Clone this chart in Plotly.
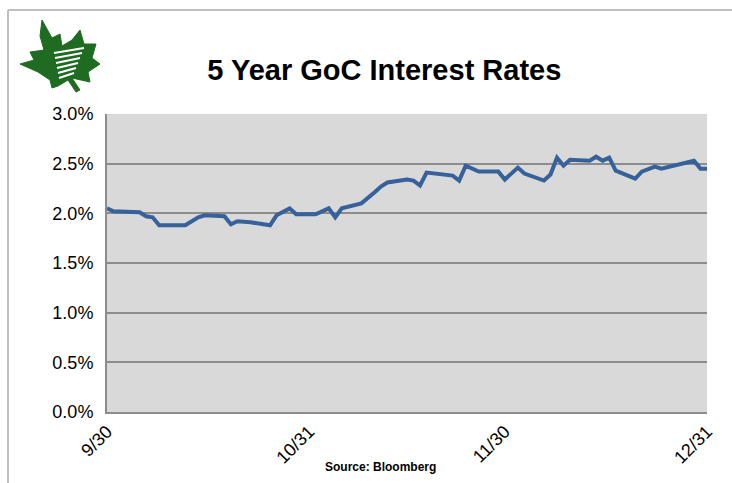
import plotly.graph_objects as go

dates = ["2010-09-30", "2010-10-01", "2010-10-05", "2010-10-06", "2010-10-07", "2010-10-08",
         "2010-10-12", "2010-10-14", "2010-10-15", "2010-10-18", "2010-10-19", "2010-10-20",
         "2010-10-22", "2010-10-25", "2010-10-26", "2010-10-28", "2010-10-29", "2010-11-01",
         "2010-11-03", "2010-11-04", "2010-11-05", "2010-11-08", "2010-11-10", "2010-11-11",
         "2010-11-12", "2010-11-15", "2010-11-16", "2010-11-17", "2010-11-18", "2010-11-22",
         "2010-11-23", "2010-11-24", "2010-11-26", "2010-11-29", "2010-11-30", "2010-12-02",
         "2010-12-03", "2010-12-06", "2010-12-07", "2010-12-08", "2010-12-09", "2010-12-10",
         "2010-12-13", "2010-12-14", "2010-12-15", "2010-12-16", "2010-12-17", "2010-12-20",
         "2010-12-21", "2010-12-23", "2010-12-24", "2010-12-29", "2010-12-30", "2010-12-31"]
rates = [2.05, 2.02, 2.01, 1.97, 1.96, 1.88,
         1.88, 1.96, 1.98, 1.97, 1.89, 1.92,
         1.91, 1.88, 1.98, 2.05, 1.99, 1.99,
         2.05, 1.96, 2.05, 2.10, 2.21, 2.27,
         2.31, 2.34, 2.33, 2.28, 2.41, 2.38,
         2.33, 2.48, 2.42, 2.42, 2.34, 2.46,
         2.40, 2.33, 2.39, 2.56, 2.48, 2.54,
         2.53, 2.57, 2.53, 2.56, 2.43, 2.35,
         2.42, 2.47, 2.45, 2.53, 2.45, 2.45]
rate_frac = [r / 100 for r in rates]

tick_dates = ["2010-09-30", "2010-10-31", "2010-11-30", "2010-12-31"]
tick_labels = ["9/30", "10/31", "11/30", "12/31"]

title_text = "5 Year GoC Interest Rates"
source_text = "Source: Bloomberg"

W, H = 732, 483
L, R, T, B = 107, 25, 114, 71
PW, PH = W - L - R, H - T - B


def px(x):
    return (x - L) / PW


def py(y):
    return (H - B - y) / PH


fig = go.Figure()
fig.add_trace(go.Scatter(x=dates, y=rate_frac, mode="lines",
                         line=dict(color="#36619A", width=4), hoverinfo="skip"))

shapes = [
    # outer frame (left and top)
    dict(type="line", xref="paper", yref="paper", x0=px(8), x1=px(8), y0=py(10), y1=py(490),
         line=dict(color="#BFBFBF", width=2), layer="above"),
    dict(type="line", xref="paper", yref="paper", x0=px(8), x1=px(740), y0=py(10), y1=py(10),
         line=dict(color="#BFBFBF", width=2), layer="above"),
]

# maple leaf logo (approximate)
leaf = [(42, 20), (52, 38), (60, 34), (62, 46), (72, 40), (80, 30), (84, 44), (96, 44), (92, 58),
        (100, 64), (88, 72), (90, 82), (72, 78), (80, 90), (76, 92), (68, 80), (58, 86), (52, 88),
        (50, 80), (38, 72), (20, 64), (34, 60), (30, 52), (44, 50), (40, 36)]
path = "M " + " L ".join(f"{px(x)},{py(y)}" for x, y in leaf) + " Z"
shapes.append(dict(type="path", xref="paper", yref="paper", path=path,
                   fillcolor="#1F6B22", line=dict(color="#1F6B22", width=1), layer="above"))
for i, yy in enumerate([52, 57, 62, 67, 72, 77]):
    shapes.append(dict(type="line", xref="paper", yref="paper",
                       x0=px(54 + i), x1=px(84 - i * 2), y0=py(yy + 1), y1=py(yy - 4),
                       line=dict(color="white", width=2), layer="above"))

fig.update_layout(
    width=W, height=H,
    margin=dict(l=L, r=R, t=T, b=B),
    paper_bgcolor="white",
    plot_bgcolor="#D9D9D9",
    showlegend=False,
    font=dict(family="Liberation Sans, Arial, sans-serif", color="black"),
    title=dict(text=f"<b>{title_text}</b>", x=0.525, xanchor="center", y=1 - 70 / H, yanchor="middle",
               font=dict(size=29, color="black")),
    xaxis=dict(type="date", range=["2010-09-30", "2010-12-31"], tickvals=tick_dates,
               ticktext=tick_labels, tickangle=-45, showgrid=False, zeroline=False,
               showline=True, linecolor="#8C8C8C", linewidth=2,
               tickfont=dict(size=18, color="black"), ticks=""),
    yaxis=dict(range=[0, 0.03], dtick=0.005, tickformat=".1%", showgrid=True,
               gridcolor="#8C8C8C", gridwidth=2, zeroline=False,
               showline=True, linecolor="#8C8C8C", linewidth=2, mirror=False,
               tickfont=dict(size=18, color="black"), ticks="", ticklen=0,
               ticklabelstandoff=8),
    shapes=shapes,
    annotations=[dict(text=f"<b>{source_text}</b>", xref="paper", yref="paper",
                      x=px(380), y=py(467), xanchor="center", yanchor="middle", showarrow=False,
                      font=dict(size=12, family="Liberation Sans Narrow, Arial Narrow, sans-serif",
                                color="black"))],
)

fig.write_html("out.html")
